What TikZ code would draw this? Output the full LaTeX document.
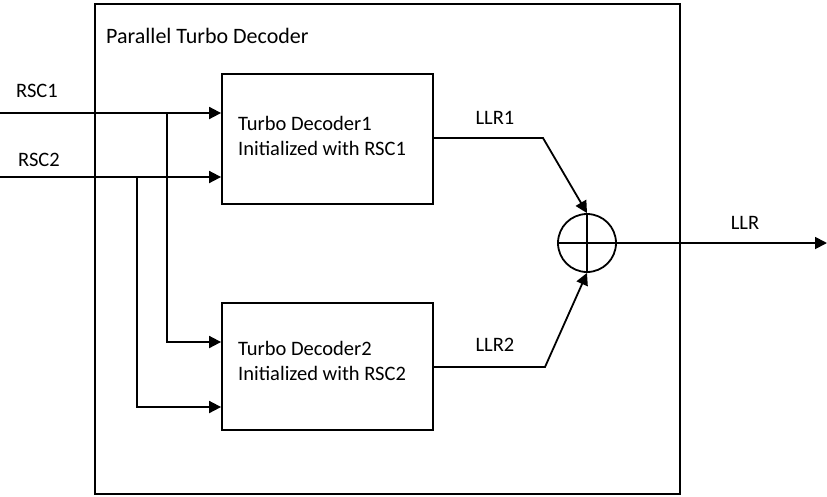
\documentclass[tikz,border=0pt]{standalone}
\usepackage{fontspec}
\setmainfont{Carlito}
\usetikzlibrary{arrows.meta}
\begin{document}
\begin{tikzpicture}[x=1pt,y=-1pt,
  every node/.style={font=\fontsize{20.5}{25}\selectfont, inner sep=0pt},
  ln/.style={line width=1.8pt},
  arr/.style={ln, -{Triangle[length=12pt,width=12pt]}},
  box/.style={draw, line width=1.8pt, rectangle, align=left},
  lbl/.style={anchor=base}
]
\useasboundingbox (0,0) rectangle (827,496);
% outer box
\node[box, minimum width=585pt, minimum height=490pt] (outer) at (387.5,249) {};
\node[anchor=base west, font=\fontsize{22}{26}\selectfont] (title) at (106,43) {Parallel Turbo Decoder};
% decoders
\node[box, minimum width=211pt, minimum height=130pt] (dec1) at (327.5,139) {};
\node[box, minimum width=211pt, minimum height=127pt] (dec2) at (327.5,366.5) {};
\node[anchor=base west] (t1a) at (238,130) {Turbo Decoder1};
\node[anchor=base west] (t1b) at (238,155) {Initialized with RSC1};
\node[anchor=base west] (t2a) at (238,355) {Turbo Decoder2};
\node[anchor=base west] (t2b) at (238,380) {Initialized with RSC2};
% adder
\node[draw, circle, line width=1.8pt, minimum size=58pt] (sum) at (587,243) {};
\draw[ln] (sum.north) -- (sum.south);
\draw[ln] (sum.west) -- (sum.east);
% inputs
\coordinate (in1) at (0,113);
\coordinate (in2) at (0,177);
\coordinate (b1) at (167,113);
\coordinate (b2) at (137,177);
\coordinate (c1) at (167,342);
\coordinate (c2) at (137,407);
\node[lbl] (rsc1) at (37,97.5) {RSC1};
\node[lbl] (rsc2) at (39,166) {RSC2};
\draw[arr] (in1) -- (in1 -| dec1.west);
\draw[arr] (in2) -- (in2 -| dec1.west);
\draw[arr] (b1) -- (c1) -- (c1 -| dec2.west);
\draw[arr] (b2) -- (c2) -- (c2 -| dec2.west);
% outputs
\coordinate (o1) at (433,138);
\coordinate (k1) at (543,138);
\coordinate (o2) at (433,367);
\coordinate (k2) at (545,367);
\node[lbl] (llr1) at (495,124) {LLR1};
\node[lbl] (llr2) at (495,351) {LLR2};
\draw[arr] (o1) -- (k1) -- (sum.north);
\draw[arr] (o2) -- (k2) -- (sum.south);
\coordinate (out) at (827,243);
\draw[arr] (sum.east) -- (out);
\node[lbl] (llr) at (745,229) {LLR};
\end{tikzpicture}
\end{document}
